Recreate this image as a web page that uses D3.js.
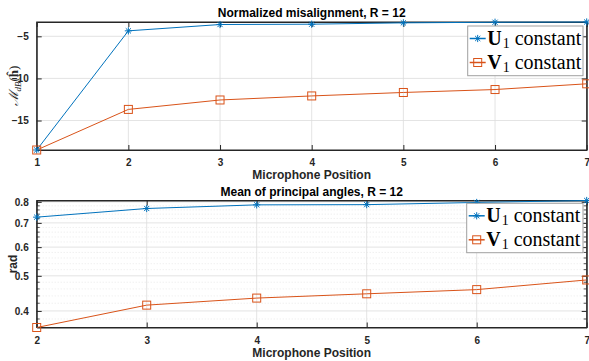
<!DOCTYPE html>
<html>
<head>
<meta charset="utf-8">
<script src="https://cdn.jsdelivr.net/npm/d3@7"></script>
<style>
  body { margin: 0; background: #fff; }
  svg { font-family: "Liberation Sans", Arial, sans-serif; }
</style>
</head>
<body>
<div id="chart"></div>
<script>
// data
const micPos = [1, 2, 3, 4, 5, 6, 7];
const misU = [-18.5, -4.35, -3.6, -3.56, -3.4, -3.33, -3.3];
const misV = [-18.5, -13.68, -12.56, -12.08, -11.67, -11.32, -10.64];
const misTicks = [-15, -10, -5];

const anglePos = [2, 3, 4, 5, 6, 7];
const angU = [0.726, 0.767, 0.785, 0.786, 0.797, 0.807];
const angV = [0.360, 0.415, 0.434, 0.446, 0.458, 0.487];
const angTicks = [0.4, 0.5, 0.6, 0.7, 0.8];

const blue = "#0072BD", orange = "#D95319";
const serif = "'Liberation Serif', 'DejaVu Serif', serif";
const W = 589, H = 361;

const svg = d3.select("#chart").append("svg")
  .attr("width", W).attr("height", H);

function asterisk(g, cx, cy) {
  const r = 3.6, d = r * 0.72;
  g.append("path")
    .attr("d", `M${cx-r},${cy}L${cx+r},${cy}M${cx},${cy-r}L${cx},${cy+r}` +
      `M${cx-d},${cy-d}L${cx+d},${cy+d}M${cx-d},${cy+d}L${cx+d},${cy-d}`)
    .attr("stroke", blue).attr("stroke-width", 1).attr("fill", "none");
}
function square(g, cx, cy) {
  g.append("rect").attr("x", cx - 4).attr("y", cy - 4)
    .attr("width", 8).attr("height", 8)
    .attr("fill", "none").attr("stroke", orange).attr("stroke-width", 1);
}

function panel(opts) {
  const g = svg.append("g");
  const x = opts.x, y = opts.y;
  const [x0, x1] = x.range();
  const [yb, yt] = y.range();

  // minor grid
  if (opts.minor) {
    g.selectAll(".mg").data(opts.minor).enter().append("line")
      .attr("x1", x0).attr("x2", x1)
      .attr("y1", d => y(d)).attr("y2", d => y(d))
      .attr("stroke", "#e4e4e4").attr("stroke-width", 0.8)
      .attr("stroke-dasharray", "1,2");
  }
  // major grid
  g.selectAll(".gx").data(opts.xTicks).enter().append("line")
    .attr("x1", d => x(d)).attr("x2", d => x(d))
    .attr("y1", yb).attr("y2", yt)
    .attr("stroke", "#dcdcdc").attr("stroke-width", 0.8);
  g.selectAll(".gy").data(opts.yTicks).enter().append("line")
    .attr("x1", x0).attr("x2", x1)
    .attr("y1", d => y(d)).attr("y2", d => y(d))
    .attr("stroke", "#dcdcdc").attr("stroke-width", 0.8);

  // axes, inward ticks, MATLAB style
  const axL = d3.axisLeft(y).tickValues(opts.yTicks).tickSizeInner(-5).tickSizeOuter(0)
    .tickPadding(8).tickFormat(opts.yFmt);
  const axB = d3.axisBottom(x).tickValues(opts.xTicks).tickSizeInner(-5).tickSizeOuter(0)
    .tickPadding(9).tickFormat(d3.format("d"));
  g.append("g").attr("transform", `translate(${x0},0)`).call(axL);
  g.append("g").attr("transform", `translate(0,${yb})`).call(axB);
  g.append("g").attr("transform", `translate(${x1},0)`)
    .call(d3.axisRight(y).tickValues(opts.yTicks).tickSizeInner(-5).tickSizeOuter(0).tickFormat(""));
  g.append("g").attr("transform", `translate(0,${yt})`)
    .call(d3.axisTop(x).tickValues(opts.xTicks).tickSizeInner(-5).tickSizeOuter(0).tickFormat(""));
  if (opts.minor) {
    g.selectAll(".mtl").data(opts.minor).enter().append("line")
      .attr("x1", x0).attr("x2", x0 + 3).attr("y1", d => y(d)).attr("y2", d => y(d))
      .attr("stroke", "#262626").attr("stroke-width", 0.8);
    g.selectAll(".mtr").data(opts.minor).enter().append("line")
      .attr("x1", x1).attr("x2", x1 - 3).attr("y1", d => y(d)).attr("y2", d => y(d))
      .attr("stroke", "#262626").attr("stroke-width", 0.8);
  }
  g.selectAll(".domain").attr("stroke", "#262626");
  g.selectAll(".tick line").attr("stroke", "#262626");
  g.selectAll(".tick text").attr("font-size", 10).attr("font-weight", "bold")
    .attr("fill", "#262626").attr("font-family", "Liberation Sans, Arial, sans-serif");
  g.append("rect").attr("x", x0).attr("y", yt).attr("width", x1 - x0).attr("height", yb - yt)
    .attr("fill", "none").attr("stroke", "#262626").attr("stroke-width", 1);

  // lines
  const line = d3.line().x(d => x(d[0])).y(d => y(d[1]));
  const dU = opts.xs.map((v, i) => [v, opts.u[i]]);
  const dV = opts.xs.map((v, i) => [v, opts.v[i]]);
  g.append("path").datum(dU).attr("d", line).attr("fill", "none")
    .attr("stroke", blue).attr("stroke-width", 1);
  g.append("path").datum(dV).attr("d", line).attr("fill", "none")
    .attr("stroke", orange).attr("stroke-width", 1);
  dU.forEach(d => asterisk(g, x(d[0]), y(d[1])));
  dV.forEach(d => square(g, x(d[0]), y(d[1])));

  // title and labels
  g.append("text").attr("x", (x0 + x1) / 2).attr("y", opts.titleY)
    .attr("text-anchor", "middle").attr("font-size", 12).attr("font-weight", "bold")
    .text(opts.title);
  g.append("text").attr("x", (x0 + x1) / 2).attr("y", opts.xLabelY)
    .attr("text-anchor", "middle").attr("font-size", 12).attr("font-weight", "bold")
    .attr("fill", "#262626").text("Microphone Position");

  // legend
  const L = opts.legend;
  const lg = g.append("g");
  lg.append("rect").attr("x", L.x).attr("y", L.y).attr("width", L.w).attr("height", L.h)
    .attr("fill", "#fff").attr("stroke", "#a0a0a0").attr("stroke-width", 1);
  [["U", blue, asterisk], ["V", orange, square]].forEach((e, i) => {
    const cy = L.y + 12.5 + i * 24;
    lg.append("line").attr("x1", L.x + 2).attr("x2", L.x + 18).attr("y1", cy).attr("y2", cy)
      .attr("stroke", e[1]).attr("stroke-width", 1.5);
    e[2](lg, L.x + 10, cy);
    const t = lg.append("text").attr("x", L.x + 19.5).attr("y", cy + 6.5)
      .style("font-family", serif).attr("font-size", 20)
      .attr("fill", "#000");
    t.append("tspan").attr("font-weight", "bold").text(e[0]);
    t.append("tspan").attr("font-size", 14).attr("dy", 3).attr("dx", 1).text("1");
    t.append("tspan").attr("dy", -3).attr("dx", 5).text("constant");
  });
  return g;
}

// top panel
const xTop = d3.scaleLinear().domain(d3.extent(micPos)).range([36.7, 586.7]);
const yTop = d3.scaleLinear()
  .domain([d3.min(misU.concat(misV)), d3.max(misU.concat(misV))]).range([150, 22]);
panel({
  x: xTop, y: yTop, xs: micPos, u: misU, v: misV,
  xTicks: micPos, yTicks: misTicks, yFmt: d3.format("d"),
  title: "Normalized misalignment, R = 12", titleY: 17, xLabelY: 179,
  legend: { x: 467.7, y: 26, w: 115.3, h: 49.7 }
});

// bottom panel (log y)
const xBot = d3.scaleLinear().domain(d3.extent(anglePos)).range([36.7, 586.7]);
const yBot = d3.scaleLog()
  .domain([d3.min(angV), d3.max(angU)]).range([327.5, 200.5]);
const minor = d3.range(36, 81, 2).map(v => v / 100).filter(v => v % 0.1 > 0.001 && v % 0.1 < 0.099);
panel({
  x: xBot, y: yBot, xs: anglePos, u: angU, v: angV,
  xTicks: anglePos, yTicks: angTicks, yFmt: d3.format(".1f"), minor: minor,
  title: "Mean of principal angles, R = 12", titleY: 196, xLabelY: 357,
  legend: { x: 466.7, y: 203.3, w: 116.3, h: 49.4 }
});

// y labels
const yl1 = svg.append("text").attr("transform", "translate(18,86) rotate(-90)")
  .attr("text-anchor", "middle").style("font-family", serif)
  .attr("font-size", 13).attr("fill", "#262626");
yl1.append("tspan").attr("font-style", "italic").text("\u2133");
yl1.append("tspan").attr("font-style", "italic").attr("font-size", 9).attr("dy", 3).text("dB");
yl1.append("tspan").attr("dy", -3).text("(");
yl1.append("tspan").attr("font-weight", "bold").text("h\u0302");
yl1.append("tspan").text(")");

svg.append("text").attr("transform", "translate(17,264) rotate(-90)")
  .attr("text-anchor", "middle").attr("font-size", 12).attr("font-weight", "bold")
  .attr("fill", "#262626").text("rad");
</script>
</body>
</html>
